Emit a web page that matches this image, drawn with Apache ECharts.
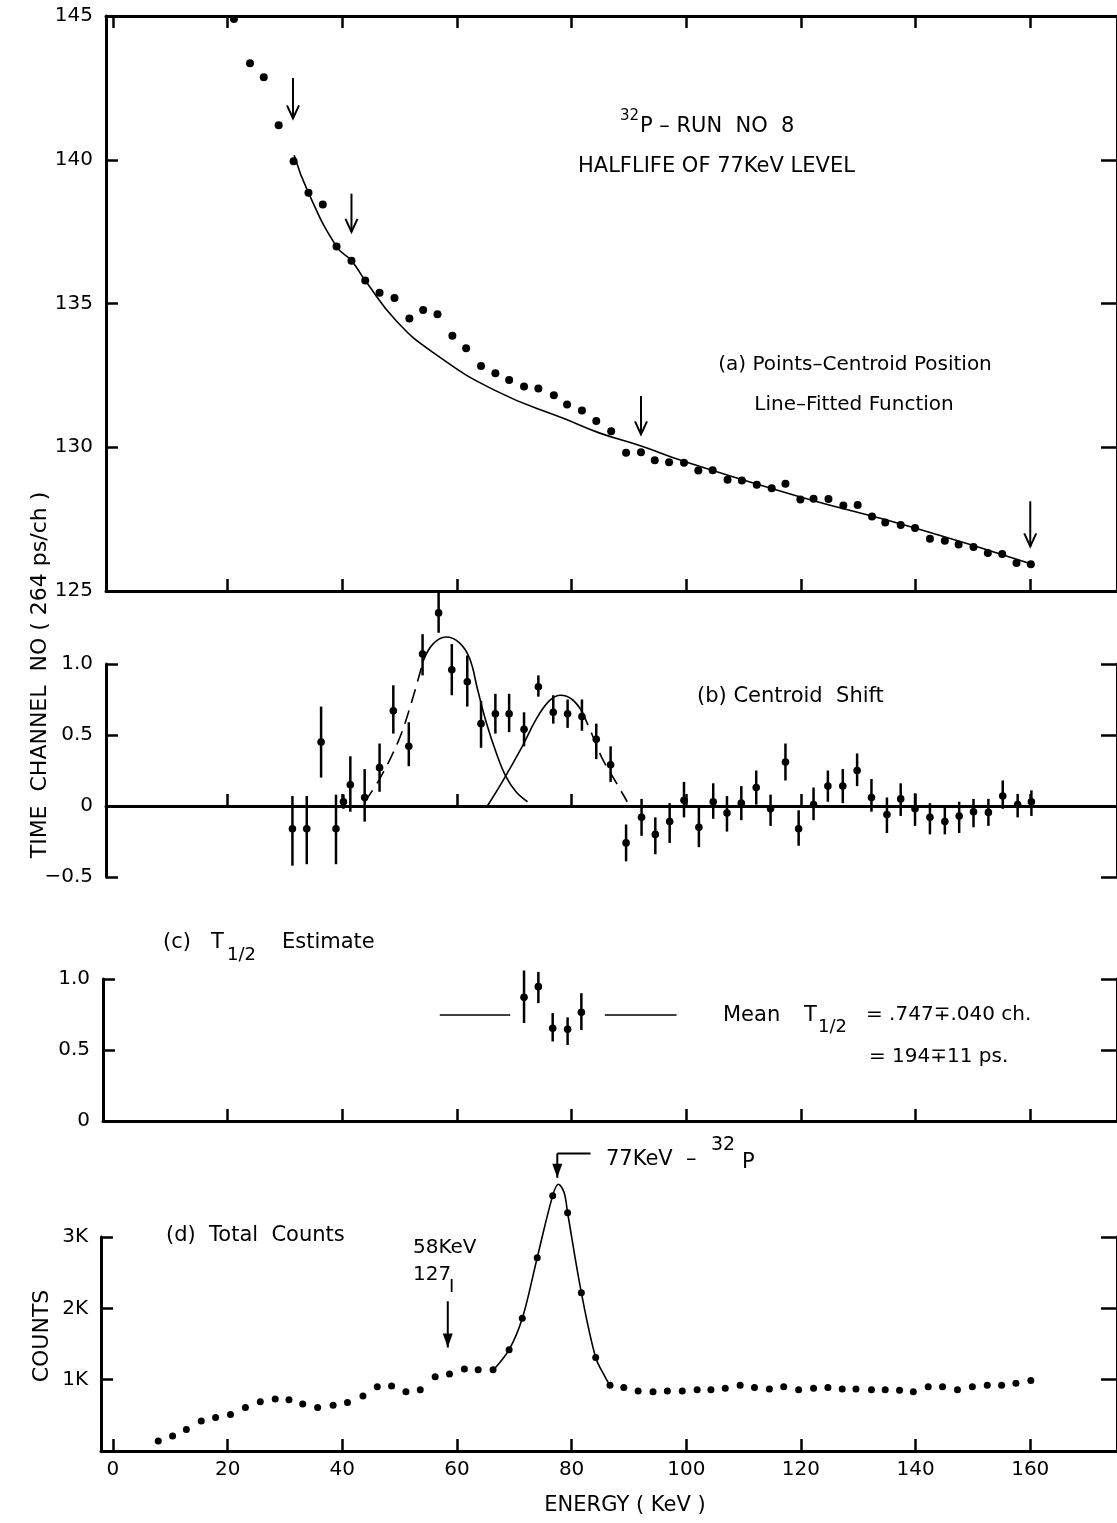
<!DOCTYPE html>
<html>
<head>
<meta charset="utf-8">
<script src="https://cdn.jsdelivr.net/npm/echarts@6/dist/echarts.min.js"></script>
<style>
  html, body { margin: 0; padding: 0; background: #fff; }
  #chart { width: 1117px; height: 1523px; }
</style>
</head>
<body>
<div id="chart"></div>
<script>
// ---- data ----
// (a) centroid position (time channel) vs energy (keV)
var energyA = [21.1, 23.9, 26.3, 28.9, 31.5, 34.1, 36.6, 39.0, 41.6, 44.0, 46.5, 49.1, 51.7, 54.1, 56.6,
  59.2, 61.6, 64.2, 66.7, 69.1, 71.7, 74.2, 76.9, 79.2, 81.8, 84.3, 86.9, 89.5, 92.1, 94.5, 97.0, 99.6,
  102.1, 104.6, 107.2, 109.7, 112.3, 114.9, 117.3, 119.9, 122.2, 124.8, 127.4, 129.9, 132.4, 134.7,
  137.4, 139.9, 142.5, 145.1, 147.5, 150.1, 152.6, 155.1, 157.6, 160.1];
var centroidA = [144.9, 143.36, 142.87, 141.2, 139.95, 138.85, 138.44, 136.98, 136.49, 135.80, 135.37,
  135.19, 134.48, 134.77, 134.63, 133.88, 133.44, 132.83, 132.57, 132.34, 132.11, 132.04, 131.81, 131.49,
  131.28, 130.91, 130.56, 129.81, 129.83, 129.55, 129.48, 129.46, 129.19, 129.20, 128.87, 128.84, 128.70,
  128.57, 128.73, 128.18, 128.21, 128.20, 127.97, 127.99, 127.59, 127.38, 127.30, 127.19, 126.82, 126.75,
  126.62, 126.53, 126.32, 126.29, 125.97, 125.93];
var fitEnergy = [31.6, 34.1, 39.0, 41.6, 44.0, 49.4, 55.8, 66.8, 79.0, 84.8, 92.0, 99.6, 119.6, 139.9, 160.2];
var fitCentroid = [140.16, 138.85, 136.98, 136.49, 135.80, 134.40, 133.30, 131.96, 130.97, 130.50, 130.05,
  129.51, 128.29, 127.19, 125.94];
// [energy, from, to]
var arrowsA = [[31.4, 142.84, 141.44], [41.6, 138.82, 137.49], [92.1, 131.78, 130.45], [160.0, 128.12, 126.55]];

// (b) centroid shift
var energyB = [31.3, 33.8, 36.3, 38.9, 40.2, 41.4, 43.9, 46.5, 48.9, 51.6, 54.0, 56.8, 59.1, 61.8, 64.2,
  66.7, 69.1, 71.7, 74.2, 76.8, 79.3, 81.8, 84.3, 86.8, 89.5, 92.2, 94.6, 97.1, 99.6, 102.2, 104.7, 107.1,
  109.6, 112.2, 114.7, 117.3, 119.6, 122.2, 124.7, 127.3, 129.8, 132.3, 135.0, 137.4, 139.9, 142.5, 145.1,
  147.6, 150.1, 152.7, 155.2, 157.8, 160.2];
var shiftB = [-0.16, -0.16, 0.45, -0.16, 0.03, 0.15, 0.06, 0.27, 0.67, 0.42, 1.07, 1.36, 0.96, 0.875, 0.58,
  0.65, 0.65, 0.54, 0.84, 0.66, 0.65, 0.63, 0.47, 0.29, -0.26, -0.08, -0.20, -0.11, 0.04, -0.15, 0.03, -0.05,
  0.02, 0.13, -0.02, 0.31, -0.16, 0.01, 0.14, 0.14, 0.25, 0.06, -0.06, 0.05, -0.02, -0.08, -0.11, -0.07,
  -0.04, -0.045, 0.07, 0.01, 0.03];
var shiftHiB = [0.07, 0.07, 0.70, 0.08, 0.08, 0.35, 0.26, 0.44, 0.85, 0.59, 1.21, 1.50, 1.14, 1.06, 0.74,
  0.79, 0.79, 0.66, 0.92, 0.78, 0.75, 0.75, 0.58, 0.42, -0.13, 0.05, -0.08, 0.02, 0.17, -0.01, 0.16, 0.07,
  0.14, 0.25, 0.08, 0.44, -0.03, 0.13, 0.25, 0.26, 0.37, 0.19, 0.06, 0.16, 0.09, 0.02, -0.01, 0.03, 0.05,
  0.05, 0.18, 0.085, 0.11];
var shiftLoB = [-0.42, -0.41, 0.20, -0.41, -0.02, -0.04, -0.11, 0.10, 0.51, 0.28, 0.92, 1.22, 0.78, 0.70,
  0.41, 0.51, 0.52, 0.42, 0.77, 0.58, 0.55, 0.53, 0.33, 0.17, -0.39, -0.21, -0.34, -0.26, -0.08, -0.29, -0.09,
  -0.18, -0.10, 0.01, -0.14, 0.18, -0.28, -0.10, 0.03, 0.02, 0.14, -0.04, -0.19, -0.07, -0.14, -0.20, -0.20,
  -0.19, -0.15, -0.14, -0.02, -0.08, -0.07];
var gauss1E = [43.9, 46.5, 49.7, 51.7, 54.1, 55.8, 58.1, 60.4, 62.2, 63.6, 65.1, 66.8, 68.5, 70.3, 72.3];
var gauss1V = [0.03, 0.19, 0.45, 0.68, 1.02, 1.14, 1.19, 1.15, 1.04, 0.82, 0.59, 0.38, 0.21, 0.10, 0.03];
var gauss2E = [65.3, 67.9, 71.4, 73.8, 76.1, 78.1, 80.1, 81.9, 83.6, 85.4, 87.7, 89.7];
var gauss2V = [0.0, 0.17, 0.42, 0.61, 0.74, 0.78, 0.75, 0.66, 0.50, 0.33, 0.17, 0.03];

// (c) T1/2 estimate
var energyC = [71.7, 74.2, 76.7, 79.3, 81.7];
var halfC = [0.871, 0.946, 0.653, 0.646, 0.765];
var halfHiC = [1.06, 1.05, 0.76, 0.73, 0.90];
var halfLoC = [0.69, 0.83, 0.56, 0.535, 0.64];
var meanHalf = 0.747;
var meanSpans = [[57.0, 69.3], [85.8, 98.3]];

// (d) total counts (thousands)
var energyD = [7.9, 10.4, 12.8, 15.4, 17.9, 20.5, 23.1, 25.7, 28.3, 30.7, 33.1, 35.7, 38.4, 40.9, 43.6,
  46.1, 48.6, 51.1, 53.6, 56.2, 58.7, 61.3, 63.7, 66.3, 69.1, 71.4, 74.0, 76.7, 79.3, 81.7, 84.2, 86.7,
  89.1, 91.6, 94.2, 96.7, 99.3, 101.9, 104.3, 106.8, 109.4, 111.9, 114.5, 117.0, 119.6, 122.2, 124.7,
  127.2, 129.6, 132.3, 134.7, 137.2, 139.6, 142.2, 144.7, 147.3, 149.9, 152.5, 155.0, 157.5, 160.1];
var countsD = [0.14, 0.21, 0.30, 0.42, 0.47, 0.51, 0.61, 0.69, 0.73, 0.72, 0.66, 0.61, 0.64, 0.68, 0.77,
  0.90, 0.91, 0.83, 0.86, 1.04, 1.08, 1.15, 1.14, 1.14, 1.42, 1.86, 2.71, 3.58, 3.34, 2.22, 1.31, 0.92,
  0.89, 0.84, 0.83, 0.84, 0.84, 0.86, 0.86, 0.88, 0.92, 0.89, 0.87, 0.90, 0.86, 0.88, 0.89, 0.87, 0.87,
  0.86, 0.86, 0.85, 0.83, 0.90, 0.90, 0.86, 0.90, 0.92, 0.92, 0.95, 0.99];
var peakE = [66.4, 69.1, 71.4, 74.0, 76.7, 77.7, 78.7, 79.3, 81.7, 84.2, 85.9, 86.7];
var peakK = [1.14, 1.42, 1.86, 2.71, 3.58, 3.74, 3.62, 3.34, 2.22, 1.31, 1.03, 0.92];
var arrowsD = [[58.4, 2.10, 1.45], [77.5, 4.17, 3.83]];
var bracket77 = [[77.5, 4.17], [83.3, 4.17]];

var xTicks = [0, 20, 40, 60, 80, 100, 120, 140, 160];
var xTicksInner = [20, 40, 60, 80, 100, 120, 140, 160];

// ---- layout ----
var FONT = '"DejaVu Sans", sans-serif';
var PX0 = 113, PX_PER_KEV = 5.75;   // where 0 keV sits and px per keV
var RIGHT_EDGE = 1120;               // right frame sits just off the page
var GRIDS = [
  { left: 106, top: 16, height: 575 },
  { left: 106, top: 664, height: 213 },
  { left: 103, top: 979, height: 142 },
  { left: 101, top: 1237, height: 214 }
];
GRIDS.forEach(function (g) { g.width = RIGHT_EDGE - g.left; });

function pxToE(px) { return (px - PX0) / PX_PER_KEV; }
function zip(a, b) { return a.map(function (v, i) { return [v, b[i]]; }); }

function xAxisFor(gi, ticks, labels, pos) {
  var g = GRIDS[gi];
  return {
    type: 'value', gridIndex: gi, position: pos || 'bottom',
    min: pxToE(g.left), max: pxToE(g.left + g.width),
    splitLine: { show: false },
    axisLine: { show: true, onZero: pos !== 'top', lineStyle: { color: '#000', width: 3 } },
    axisTick: { show: true, inside: true, length: 12, customValues: ticks, lineStyle: { color: '#000', width: 2.5 } },
    axisLabel: labels ? { show: true, customValues: labels, color: '#000', fontSize: 20, fontFamily: FONT, margin: 9 } : { show: false }
  };
}

function yAxisFor(gi, min, max, step, fmt, pos) {
  var right = pos === 'right';
  return {
    type: 'value', gridIndex: gi, position: pos || 'left',
    min: min, max: max, interval: step,
    splitLine: { show: false },
    axisLine: { show: true, onZero: false, lineStyle: { color: '#000', width: 3 } },
    axisTick: { show: true, inside: true, length: right ? 16 : 12, lineStyle: { color: '#000', width: 2.5 } },
    axisLabel: right ? { show: false } : { show: true, formatter: fmt, color: '#000', fontSize: 20, fontFamily: FONT, margin: 13 }
  };
}

function errorBar(params, api) {
  var p = api.coord([api.value(0), api.value(1)]);
  var lo = api.coord([api.value(0), api.value(2)]);
  var hi = api.coord([api.value(0), api.value(3)]);
  return {
    type: 'group', children: [
      { type: 'line', shape: { x1: lo[0], y1: lo[1], x2: hi[0], y2: hi[1] }, style: { stroke: '#000', lineWidth: 2.5 } },
      { type: 'circle', shape: { cx: p[0], cy: p[1], r: 3.8 }, style: { fill: '#000' } }
    ]
  };
}

function arrow(filled) {
  return function (params, api) {
    var a = api.coord([api.value(0), api.value(1)]);
    var b = api.coord([api.value(0), api.value(2)]);
    var w = filled ? 5 : 6, h = filled ? 14 : 13;
    var head = filled
      ? { type: 'polygon', shape: { points: [[b[0] - w, b[1] - h], [b[0] + w, b[1] - h], [b[0], b[1]]] }, style: { fill: '#000' } }
      : { type: 'polyline', shape: { points: [[b[0] - w, b[1] - h], [b[0], b[1]], [b[0] + w, b[1] - h]] }, style: { stroke: '#000', lineWidth: 2, fill: null } };
    return {
      type: 'group', children: [
        { type: 'line', shape: { x1: a[0], y1: a[1], x2: b[0], y2: b[1] }, style: { stroke: '#000', lineWidth: 2 } },
        head
      ]
    };
  };
}

function lineSeries(xi, data, opts) {
  opts = opts || {};
  return {
    type: 'line', xAxisIndex: xi, yAxisIndex: xi, data: data,
    smooth: opts.smooth === undefined ? 0.4 : opts.smooth, showSymbol: false, clip: false, silent: true,
    lineStyle: { color: '#000', width: opts.width || 1.6, type: opts.dash || 'solid' }
  };
}

function txt(x, y, s, size, align) {
  return {
    type: 'text', x: x, y: y, silent: true,
    style: { text: s, font: size + 'px ' + FONT, fill: '#000', textAlign: align || 'left', align: align || 'left', textVerticalAlign: 'middle', verticalAlign: 'middle' }
  };
}

var chart = echarts.init(document.getElementById('chart'), null, { renderer: 'canvas' });

var errB = energyB.map(function (e, i) { return [e, shiftB[i], shiftLoB[i], shiftHiB[i]]; });
var errC = energyC.map(function (e, i) { return [e, halfC[i], halfLoC[i], halfHiC[i]]; });
var g1 = zip(gauss1E, gauss1V), g2 = zip(gauss2E, gauss2V);

var option = {
  animation: false,
  backgroundColor: '#fff',
  textStyle: { fontFamily: FONT },
  grid: GRIDS.map(function (g) { return { left: g.left, top: g.top, width: g.width, height: g.height, containLabel: false }; }),
  xAxis: [
    xAxisFor(0, xTicksInner, null),
    xAxisFor(1, xTicksInner, null),
    xAxisFor(2, xTicksInner, null),
    xAxisFor(3, xTicks, xTicks),
    xAxisFor(0, xTicks, null, 'top')
  ],
  yAxis: [
    yAxisFor(0, 125, 145, 5, function (v) { return String(v); }),
    yAxisFor(1, -0.5, 1.0, 0.5, function (v) { return v === 0 ? '0' : (v < 0 ? '\u2212' + Math.abs(v).toFixed(1) : v.toFixed(1)); }),
    yAxisFor(2, 0, 1.0, 0.5, function (v) { return v === 0 ? '0' : v.toFixed(1); }),
    yAxisFor(3, 0, 3, 1, function (v) { return v === 0 ? '' : v + 'K'; }),
    yAxisFor(0, 125, 145, 5, null, 'right'),
    yAxisFor(1, -0.5, 1.0, 0.5, null, 'right'),
    yAxisFor(2, 0, 1.0, 0.5, null, 'right'),
    yAxisFor(3, 0, 3, 1, null, 'right')
  ],
  series: [
    // (a)
    { type: 'scatter', xAxisIndex: 0, yAxisIndex: 0, data: zip(energyA, centroidA), symbolSize: 8, clip: false, itemStyle: { color: '#000', opacity: 1 } },
    lineSeries(0, zip(fitEnergy, fitCentroid), { smooth: 0.5 }),
    { type: 'custom', xAxisIndex: 0, yAxisIndex: 0, data: arrowsA, renderItem: arrow(false) },
    // (b)
    { type: 'custom', xAxisIndex: 1, yAxisIndex: 1, data: errB, renderItem: errorBar },
    lineSeries(1, g1.slice(0, 5), { dash: [14, 8] }),
    lineSeries(1, g1.slice(4)),
    lineSeries(1, g2.slice(0, 8)),
    lineSeries(1, g2.slice(7), { dash: [14, 8] }),
    // (c)
    { type: 'custom', xAxisIndex: 2, yAxisIndex: 2, data: errC, renderItem: errorBar },
    lineSeries(2, [[meanSpans[0][0], meanHalf], [meanSpans[0][1], meanHalf]], { smooth: false }),
    lineSeries(2, [[meanSpans[1][0], meanHalf], [meanSpans[1][1], meanHalf]], { smooth: false }),
    // (d)
    { type: 'scatter', xAxisIndex: 3, yAxisIndex: 3, data: zip(energyD, countsD), symbolSize: 7, clip: false, itemStyle: { color: '#000', opacity: 1 } },
    lineSeries(3, zip(peakE, peakK), { smooth: 0.35 }),
    { type: 'custom', xAxisIndex: 3, yAxisIndex: 3, data: arrowsD, renderItem: arrow(true) },
    lineSeries(3, bracket77, { smooth: false, width: 2 })
  ],
  graphic: [
    txt(620, 116, '32', 15),
    txt(640, 127, 'P \u2013 RUN  NO  8', 21),
    txt(578, 167, 'HALFLIFE OF 77KeV LEVEL', 21),
    txt(855, 365, '(a) Points\u2013Centroid Position', 20, 'center'),
    txt(854, 405, 'Line\u2013Fitted Function', 20, 'center'),
    txt(697, 697, '(b) Centroid  Shift', 21),
    txt(163, 943, '(c)', 21),
    txt(211, 943, 'T', 21),
    txt(227, 955, '1/2', 18),
    txt(282, 943, 'Estimate', 21),
    txt(723, 1016, 'Mean', 21),
    txt(804, 1016, 'T', 21),
    txt(818, 1027, '1/2', 18),
    txt(866, 1015, '= .747\u2213.040 ch.', 20),
    txt(869, 1057, '= 194\u221311 ps.', 20),
    txt(166, 1236, '(d)  Total  Counts', 21),
    txt(413, 1248, '58KeV', 20),
    txt(413, 1275, '127', 20),
    txt(449, 1287, 'I', 18),
    txt(606, 1160, '77KeV  \u2013', 21),
    txt(711, 1145, '32', 19),
    txt(742, 1163, 'P', 21),
    txt(625, 1506, 'ENERGY ( KeV )', 21, 'center'),
    { type: 'text', x: 40, y: 675, rotation: Math.PI / 2, silent: true,
      style: { text: 'TIME  CHANNEL  NO ( 264 ps/ch )', font: '22px ' + FONT, fill: '#000', textAlign: 'center', align: 'center', textVerticalAlign: 'middle', verticalAlign: 'middle' } },
    { type: 'text', x: 42, y: 1336, rotation: Math.PI / 2, silent: true,
      style: { text: 'COUNTS', font: '22px ' + FONT, fill: '#000', textAlign: 'center', align: 'center', textVerticalAlign: 'middle', verticalAlign: 'middle' } }
  ]
};

chart.setOption(option);
</script>
</body>
</html>
